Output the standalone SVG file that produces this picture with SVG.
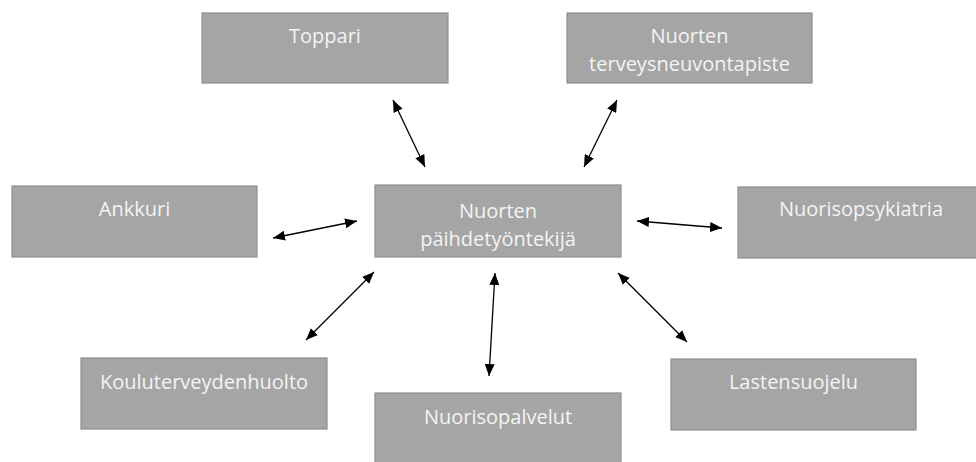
<svg xmlns="http://www.w3.org/2000/svg" width="976" height="462" viewBox="0 0 976 462">
<style>
.box{fill:#a5a5a5;stroke:#8e8e8e;stroke-width:1.2}
.lbl{font-family:"Open Sans","Noto Sans",sans-serif;font-size:20px;fill:#f4f4f4;text-anchor:middle}
.con{stroke:#000;stroke-width:1.3;fill:none;marker-start:url(#ah);marker-end:url(#ah)}
</style>
<defs>
<marker id="ah" viewBox="0 0 12 10" refX="12" refY="5" markerWidth="12" markerHeight="10" markerUnits="userSpaceOnUse" orient="auto-start-reverse">
<path d="M0,0 L12,5 L0,10 Z" fill="#000"/>
</marker>
</defs>
<rect width="976" height="462" fill="#fff"/>
<g id="connectors">
<line class="con" x1="393" y1="100" x2="425" y2="167"/>
<line class="con" x1="617" y1="100" x2="584" y2="167"/>
<line class="con" x1="273" y1="238" x2="357" y2="221"/>
<line class="con" x1="637" y1="221" x2="722" y2="228"/>
<line class="con" x1="374" y1="272" x2="306" y2="340"/>
<line class="con" x1="495" y1="273" x2="489" y2="376"/>
<line class="con" x1="618" y1="273" x2="687" y2="342"/>
</g>
<g id="toppari">
<rect class="box" x="202" y="13" width="246" height="70"/>
<text class="lbl" x="325" y="43">Toppari</text>
</g>
<g id="terveysneuvontapiste">
<rect class="box" x="567" y="13" width="245" height="70"/>
<text class="lbl" x="689.5" y="43">Nuorten</text>
<text class="lbl" x="689.5" y="71">terveysneuvontapiste</text>
</g>
<g id="ankkuri">
<rect class="box" x="12" y="186" width="245" height="71"/>
<text class="lbl" x="134.5" y="216">Ankkuri</text>
</g>
<g id="paihdetyontekija">
<rect class="box" x="375" y="185" width="246" height="72"/>
<text class="lbl" x="498" y="218">Nuorten</text>
<text class="lbl" x="498" y="246">päihdetyöntekijä</text>
</g>
<g id="nuorisopsykiatria">
<rect class="box" x="738" y="187" width="246" height="71"/>
<text class="lbl" x="861" y="216">Nuorisopsykiatria</text>
</g>
<g id="kouluterveydenhuolto">
<rect class="box" x="81" y="358" width="246" height="71"/>
<text class="lbl" x="204" y="389">Kouluterveydenhuolto</text>
</g>
<g id="nuorisopalvelut">
<rect class="box" x="375" y="393" width="246" height="72"/>
<text class="lbl" x="498" y="424">Nuorisopalvelut</text>
</g>
<g id="lastensuojelu">
<rect class="box" x="671" y="359" width="245" height="71"/>
<text class="lbl" x="793.5" y="389">Lastensuojelu</text>
</g>
</svg>
